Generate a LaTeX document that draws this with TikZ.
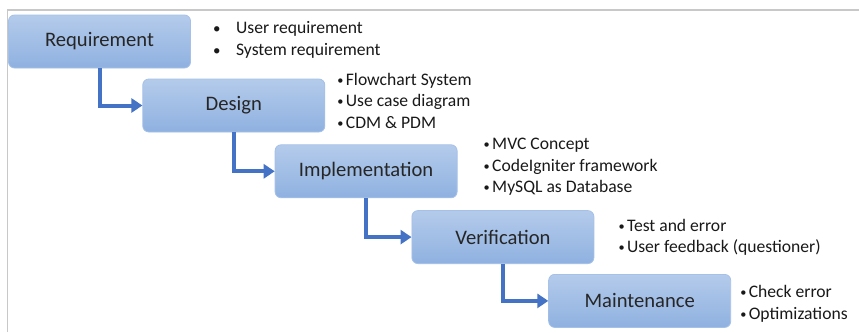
\documentclass[tikz,border=0pt]{standalone}
\usepackage{fontspec}
\setmainfont{Carlito}
\usetikzlibrary{arrows.meta,positioning}

\definecolor{boxtop}{HTML}{B4CBEB}
\definecolor{boxbot}{HTML}{8FB1E0}
\definecolor{boxline}{HTML}{A6C1E8}
\definecolor{flowblue}{HTML}{4472C4}
\definecolor{framegray}{HTML}{C8C8C8}

\newcommand{\smallbullet}{\raisebox{0.12ex}{\scalebox{0.7}{\textbullet}}}
\newcommand{\tabitem}[1]{\makebox[23pt][l]{\scalebox{0.85}{\textbullet}}#1}
\newcommand{\dotitem}[1]{\makebox[8.5pt][l]{\smallbullet}#1}

\tikzset{
  phase/.style={rectangle, rounded corners=6pt, draw=boxline, line width=0.8pt,
    top color=boxtop, bottom color=boxbot, minimum width=182pt, minimum height=53pt,
    font=\fontsize{20.6}{24}\selectfont, text=black!85},
  notes/.style={align=left, inner sep=0pt, font=\fontsize{17.6}{21.5}\selectfont, text=black!90},
  flow/.style={->, draw=flowblue, line width=4pt},
}

\begin{document}
\begin{tikzpicture}[x=1pt,y=-1pt,>={Triangle[length=11pt,width=14pt]}]
\useasboundingbox[fill=white] (0,0) rectangle (859,332);
\draw[framegray, line width=1.5pt] (7.5,332) |- (859,10);

% waterfall phases
\node[phase] (req) at (99.5,41.5) {Requirement};
\node[phase] (design) [below right=10.2pt and -48.5pt of req] {Design};
\node[phase] (impl) [below right=12pt and -50.5pt of design] {Implementation};
\node[phase] (verif) [below right=12pt and -46pt of impl] {Verification};
\node[phase] (maint) [below right=10pt and -46pt of verif] {Maintenance};

% notes
\node[notes, anchor=west] (reqnotes) [right=22pt of req, yshift=1.5pt]
  {\tabitem{User requirement}\\ \tabitem{System requirement}};
\node[notes, anchor=west] (designnotes) [right=12pt of design, yshift=5pt]
  {\dotitem{Flowchart System}\\ \dotitem{Use case diagram}\\ \dotitem{CDM \& PDM}};
\node[notes, anchor=west] (implnotes) [right=26pt of impl, yshift=4.5pt]
  {\dotitem{MVC Concept}\\ \dotitem{CodeIgniter framework}\\ \dotitem{MySQL as Database}};
\node[notes, anchor=west] (verifnotes) [right=24pt of verif, yshift=0pt]
  {\dotitem{Test and error}\\ \dotitem{User feedback (questioner)}};
\node[notes, anchor=west] (maintnotes) [right=9pt of maint, yshift=-3pt]
  {\dotitem{Check error}\\ \dotitem{Optimizations}};

% flow
\draw[flow] (req.south) |- (design.west);
\draw[flow] (design.south) |- (impl.west);
\draw[flow] (impl.south) |- (verif.west);
\draw[flow] (verif.south) |- (maint.west);
\end{tikzpicture}
\end{document}
